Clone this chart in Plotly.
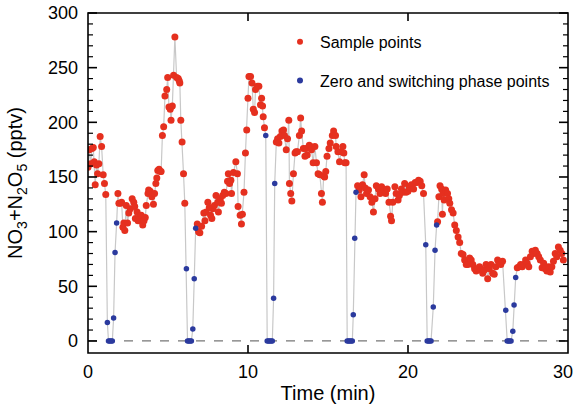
import plotly.graph_objects as go

# ---- data ----
sample_t = [0.00, 0.08, 0.17, 0.25, 0.33, 0.39, 0.45, 0.53, 0.60, 0.68, 0.76, 0.85, 0.95, 1.03, 1.11,
            1.87, 1.93, 2.03, 2.10, 2.18, 2.24, 2.30, 2.39, 2.47, 2.55, 2.65, 2.76, 2.86, 2.92, 2.96,
            3.07, 3.13, 3.21, 3.33, 3.42, 3.50, 3.58, 3.64, 3.75, 3.79, 3.89, 3.99, 4.09, 4.16, 4.24,
            4.30, 4.36, 4.44, 4.52, 4.57, 4.65, 4.73, 4.81, 4.92, 4.98, 5.06, 5.14, 5.19, 5.27, 5.35,
            5.43, 5.54, 5.64, 5.70, 5.74, 5.80, 5.88, 5.97, 6.05,
            6.83, 6.91, 6.99, 7.10, 7.24, 7.31, 7.39, 7.49, 7.58, 7.66, 7.74, 7.80, 7.90, 8.00, 8.11,
            8.15, 8.27, 8.34, 8.42, 8.52, 8.62, 8.72, 8.77, 8.85, 8.93, 8.97, 9.09, 9.24, 9.34, 9.38,
            9.51, 9.59, 9.65, 9.75, 9.84, 9.92, 10.00, 10.06, 10.16, 10.25, 10.33, 10.41, 10.47, 10.58,
            10.68, 10.78, 10.85, 10.91, 10.95, 11.03,
            11.77, 11.85, 11.93, 12.02, 12.12, 12.22, 12.28, 12.39, 12.47, 12.55, 12.59, 12.67, 12.74,
            12.84, 12.94, 13.00, 13.09, 13.21, 13.29, 13.35, 13.46, 13.56, 13.62, 13.70, 13.83, 13.91,
            13.97, 14.07, 14.18, 14.28, 14.38, 14.49, 14.59, 14.65, 14.73, 14.79, 14.86, 14.94, 15.06,
            15.14, 15.27, 15.35, 15.47, 15.51, 15.62, 15.72, 15.82, 15.93, 15.99, 16.05, 16.13,
            16.85, 16.95, 17.06, 17.16, 17.26, 17.33, 17.41, 17.53, 17.63, 17.74, 17.84, 17.94, 18.02,
            18.15, 18.25, 18.35, 18.50, 18.60, 18.70, 18.81, 18.91, 18.97, 19.05, 19.18, 19.26, 19.38,
            19.46, 19.59, 19.67, 19.79, 19.88, 20.00, 20.08, 20.21, 20.35, 20.45, 20.56, 20.66, 20.76,
            20.86, 20.97,
            21.85, 21.93, 22.00, 22.10, 22.15, 22.20, 22.26, 22.35, 22.47, 22.55, 22.61, 22.72, 22.82,
            22.92, 23.02, 23.13, 23.23, 23.33, 23.44, 23.54, 23.64, 23.74, 23.85, 23.95, 24.05, 24.16,
            24.26, 24.36, 24.47, 24.57, 24.67, 24.77, 24.88, 24.98, 25.08, 25.19, 25.29, 25.39, 25.49,
            25.60, 25.70, 25.80, 25.91,
            26.83, 26.94, 27.04, 27.14, 27.24, 27.35, 27.45, 27.55, 27.65, 27.76, 27.86, 27.96, 28.07,
            28.17, 28.27, 28.38, 28.48, 28.58, 28.68, 28.79, 28.89, 28.99, 29.09, 29.20, 29.30, 29.40,
            29.51, 29.61, 29.71]

sample_v = [159, 175, 162, 176, 177, 164, 143, 161, 153, 162, 187, 178, 152, 144, 134,
            135, 126, 126, 127, 104, 108, 101, 124, 108, 117, 121, 130, 127, 123, 112,
            118, 110, 113, 115, 106, 110, 113, 124, 135, 138, 137, 132, 125, 135, 144,
            149, 156, 157, 155, 155, 188, 196, 224, 230, 241, 214, 212, 202, 215, 243,
            278, 241, 240, 238, 236, 202, 182, 153, 126,
            107, 100, 99, 105, 117, 110, 118, 127, 122, 115, 112, 121, 124, 133, 127,
            118, 130, 126, 133, 136, 135, 146, 153, 144, 147, 135, 154, 164, 153, 123,
            115, 107, 116, 136, 172, 193, 222, 242, 242, 236, 212, 209, 230, 233,
            233, 216, 222, 215, 205, 195,
            182, 185, 181, 187, 192, 193, 188, 175, 185, 202, 144, 135, 128,
            153, 172, 173, 173, 188, 204, 192, 176, 169, 176, 170, 179, 178,
            175, 163, 178, 163, 153, 152, 135, 127, 151, 150, 155, 169, 176,
            181, 188, 192, 188, 178, 173, 164, 173, 178, 172, 163, 163,
            142, 138, 132, 143, 152, 140, 135, 138, 132, 127, 118, 130, 142,
            139, 135, 141, 138, 135, 139, 127, 114, 110, 127, 141, 135, 129,
            133, 139, 136, 144, 136, 137, 141, 143, 139, 145, 145, 147, 146,
            142, 135,
            109, 132, 142, 139, 116, 135, 129, 138, 135, 130, 126, 120, 117,
            106, 101, 95, 90, 80, 79, 74, 70, 70, 76, 74, 70, 66,
            64, 66, 68, 65, 62, 65, 70, 57, 66, 70, 62, 61, 68,
            74, 72, 70, 73,
            67, 68, 70, 68, 70, 74, 71, 68, 77, 82, 80, 83, 80,
            77, 74, 67, 71, 66, 64, 68, 63, 68, 73, 80, 77, 86,
            83, 80, 74]

zero_t = [1.21, 1.28, 1.36, 1.44, 1.52, 1.60, 1.69, 1.79,
          6.15, 6.22, 6.30, 6.38, 6.46, 6.55, 6.64, 6.73,
          11.11, 11.20, 11.28, 11.36, 11.44, 11.52, 11.60, 11.67,
          16.20, 16.28, 16.36, 16.44, 16.52, 16.58, 16.67, 16.75,
          21.11, 21.20, 21.28, 21.36, 21.44, 21.58, 21.69, 21.79,
          26.11, 26.20, 26.28, 26.36, 26.44, 26.55, 26.63, 26.73]

zero_v = [17, 0, 0, 0, 0, 21, 81, 108,
          66, 0, 0, 0, 0, 11, 57, 103,
          188, 0, 0, 0, 0, 0, 39, 144,
          0, 0, 0, 0, 0, 24, 94, 136,
          88, 0, 0, 0, 0, 31, 83, 106,
          28, 0, 0, 0, 0, 9, 33, 58]

x_ticks = [0, 10, 20, 30]
x_tick_text = ["0", "10", "20", "30\u00a0\u00a0"]
y_ticks = [0, 50, 100, 150, 200, 250, 300]
y_minor_step = 10

RED = "#e5301f"
BLUE = "#2b3a9e"
FONT = "Liberation Sans, Arial, Helvetica, sans-serif"

W, H = 576, 404
ML, MR, MT, MB = 88, 8, 13, 51
PW, PH = W - ML - MR, H - MT - MB
X_RANGE = [0, 30]
Y_RANGE = [-11, 300]

# the grey line joins every measurement in time order
pairs = sorted(zip(sample_t + zero_t, sample_v + zero_v))
line_t = [p[0] for p in pairs]
line_v = [p[1] for p in pairs]

fig = go.Figure()
fig.add_trace(go.Scatter(x=line_t, y=line_v, mode="lines",
                         line=dict(color="#c8c8c8", width=1.2),
                         showlegend=False, hoverinfo="skip"))
fig.add_trace(go.Scatter(x=sample_t, y=sample_v, mode="markers",
                         marker=dict(color=RED, size=7, line=dict(width=0)),
                         name="Sample points", showlegend=False))
fig.add_trace(go.Scatter(x=zero_t, y=zero_v, mode="markers",
                         marker=dict(color=BLUE, size=5.5, line=dict(width=0)),
                         name="Zero and switching phase points", showlegend=False))
# legend entries (small dots as in the reference)
fig.add_trace(go.Scatter(x=[None], y=[None], mode="markers",
                         marker=dict(color=RED, size=6), name="Sample points",
                         legendgroup="a"))
fig.add_trace(go.Scatter(x=[None], y=[None], mode="markers",
                         marker=dict(color=BLUE, size=6),
                         name="Zero and switching phase points", legendgroup="b"))

fig.add_hline(y=0, line=dict(color="#777777", width=1.2, dash="dash"), layer="below")

# plot frame
fig.add_shape(type="rect", xref="paper", yref="paper", x0=0, x1=1, y0=0, y1=1,
              line=dict(color="black", width=1.6), layer="above")

# inward tick marks on all four sides: thin filled bars placed from the tick lists
def tick_bar(xref, yref, x0, x1, y0, y1):
    fig.add_shape(type="rect", xref=xref, yref=yref, x0=x0, x1=x1, y0=y0, y1=y1,
                  fillcolor="black", line=dict(width=0), layer="above")

half_x = 0.8 / PW   # half tick thickness, paper units
half_y = 0.8 / PH
for xv in x_ticks:
    if X_RANGE[0] < xv < X_RANGE[1]:
        f = (xv - X_RANGE[0]) / (X_RANGE[1] - X_RANGE[0])
        L = 8 / PH
        tick_bar("paper", "paper", f - half_x, f + half_x, 0, L)
        tick_bar("paper", "paper", f - half_x, f + half_x, 1 - L, 1)

yv = 0
while yv <= Y_RANGE[1]:
    f = (yv - Y_RANGE[0]) / (Y_RANGE[1] - Y_RANGE[0])
    major = yv in y_ticks
    L = (9 if major else 5) / PW
    h = half_y if major else 0.6 / PH
    tick_bar("paper", "paper", 0, L, f - h, f + h)
    tick_bar("paper", "paper", 1 - L, 1, f - h, f + h)
    yv += y_minor_step

fig.update_layout(
    width=W, height=H,
    margin=dict(l=ML, r=MR, t=MT, b=MB, autoexpand=False),
    paper_bgcolor="white", plot_bgcolor="white",
    font=dict(family=FONT, color="black"),
    legend=dict(x=0.40, y=0.965, xanchor="left", yanchor="top",
                bgcolor="rgba(0,0,0,0)", font=dict(size=16),
                traceorder="grouped", tracegroupgap=15),
)
fig.update_xaxes(
    range=X_RANGE, tickmode="array", tickvals=x_ticks, ticktext=x_tick_text,
    ticks="", showline=False, showgrid=False, zeroline=False, automargin=False,
    tickfont=dict(size=18), ticklabeloverflow="allow", ticklabelstandoff=6,
    title=dict(text="Time (min)", font=dict(size=20), standoff=9),
)
fig.update_yaxes(
    range=Y_RANGE, tickmode="array", tickvals=y_ticks,
    ticks="", showline=False, showgrid=False, zeroline=False, automargin=False,
    tickfont=dict(size=18), ticklabeloverflow="allow", ticklabelstandoff=9,
    title=dict(text="NO<sub>3</sub>+N<sub>2</sub>O<sub>5</sub> (pptv)",
               font=dict(size=20), standoff=19),
)

fig.write_html("out.html",
               config={"displayModeBar": False},
               post_script="document.body.style.margin='0';"
                           "document.documentElement.style.overflow='hidden';")
